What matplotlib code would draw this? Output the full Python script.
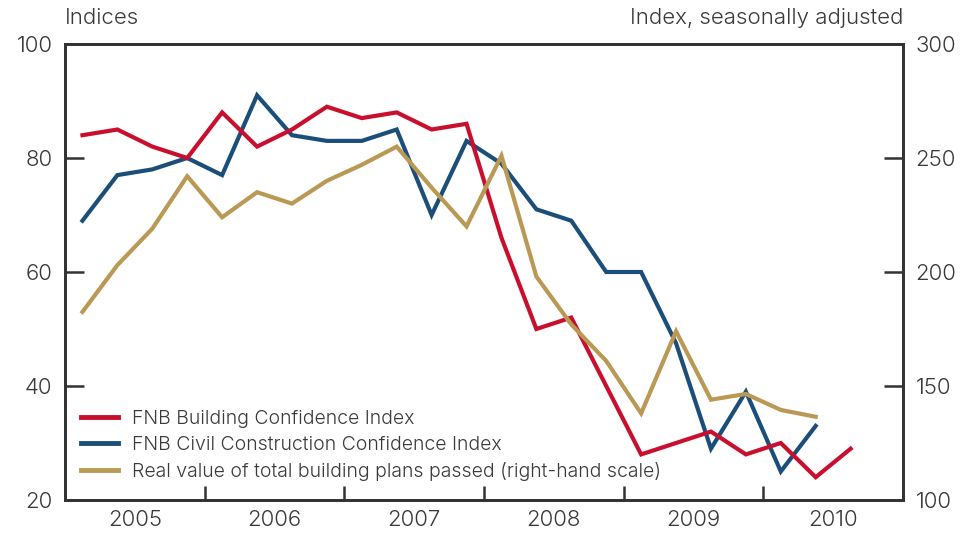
import matplotlib
matplotlib.use("Agg")
import matplotlib.pyplot as plt
import numpy as np

# ---- data (quarterly, starting 2005 Q1) ----
start_year = 2005
building = [84, 85, 82, 80, 88, 82, 85, 89, 87, 88, 85, 86, 66, 50, 52, 40,
            28, 30, 32, 28, 30, 24, 29]
civil = [69, 77, 78, 80, 77, 91, 84, 83, 83, 85, 70, 83, 79, 71, 69, 60,
         60, 47.5, 29, 39, 25, 33]
plans = [182.5, 203, 219, 242, 224, 235, 230, 240, 247, 255, 237, 220, 251,
         198, 177, 161, 138, 174, 144, 146.5, 139.5, 136.5]
years = [2005, 2006, 2007, 2008, 2009, 2010]
left_ticks = [20, 40, 60, 80, 100]
right_ticks = [100, 150, 200, 250, 300]

labels = ["FNB Building Confidence Index",
          "FNB Civil Construction Confidence Index",
          "Real value of total building plans passed (right-hand scale)"]

def qx(n):
    return start_year + (np.arange(n) + 0.5) / 4.0

RED = "#C8102E"
BLUE = "#1B4F7A"
GOLD = "#BA9955"
TXT = "#3a3a3a"
SPINE = "#333333"

plt.rcParams['font.family'] = ['Inter', 'DejaVu Sans']
plt.rcParams['font.weight'] = 300

FS = 16
LFS = 14

fig = plt.figure(figsize=(9.63, 5.33), dpi=100)
ax = fig.add_axes([65/963, 33/533, (903-65)/963, (500-44)/533])
ax2 = ax.twinx()

l2, = ax.plot(qx(len(civil)), civil, color=BLUE, lw=3.0, solid_joinstyle='miter')
l1, = ax.plot(qx(len(building)), building, color=RED, lw=3.0, solid_joinstyle='miter')
l3, = ax2.plot(qx(len(plans)), plans, color=GOLD, lw=3.0, solid_joinstyle='miter')

ax.set_xlim(2005, 2011)
ax.set_ylim(20, 100)
ax2.set_ylim(100, 300)

ax.set_yticks(left_ticks)
ax2.set_yticks(right_ticks)
ax.set_xticks(years[1:])
ax.set_xticklabels([])
ax.set_xticks([y + 0.5 for y in years], minor=True)
ax.set_xticklabels([str(y) for y in years], minor=True)

ax.tick_params(axis='y', direction='in', length=14, width=1.8, color=SPINE,
               labelsize=FS, labelcolor=TXT, pad=9)
ax2.tick_params(axis='y', direction='in', length=14, width=1.8, color=SPINE,
                labelsize=FS, labelcolor=TXT, pad=9)
ax.tick_params(axis='x', which='major', direction='in', length=10, width=1.8,
               color=SPINE)
ax.tick_params(axis='x', which='minor', length=0, labelsize=FS,
               labelcolor=TXT, pad=7)
ax2.tick_params(axis='x', length=0)

for a in (ax, ax2):
    for s in a.spines.values():
        s.set_color(SPINE)
        s.set_linewidth(2.0)

fig.text(65/963, 1 - 18/533, "Indices", ha='left', va='center',
         fontsize=FS, color=TXT)
fig.text(903/963, 1 - 18/533, "Index, seasonally adjusted", ha='right',
         va='center', fontsize=FS, color=TXT)

leg = ax2.legend([l1, l2, l3], labels, loc='lower left',
                 bbox_to_anchor=(0.0, 0.008), frameon=False, fontsize=LFS,
                 handlelength=1.9, handletextpad=0.72, labelspacing=0.41,
                 borderaxespad=0.4)
for t in leg.get_texts():
    t.set_color(TXT)
for h in leg.get_lines():
    h.set_linewidth(3.5)

fig.savefig("out.png", dpi=100)
